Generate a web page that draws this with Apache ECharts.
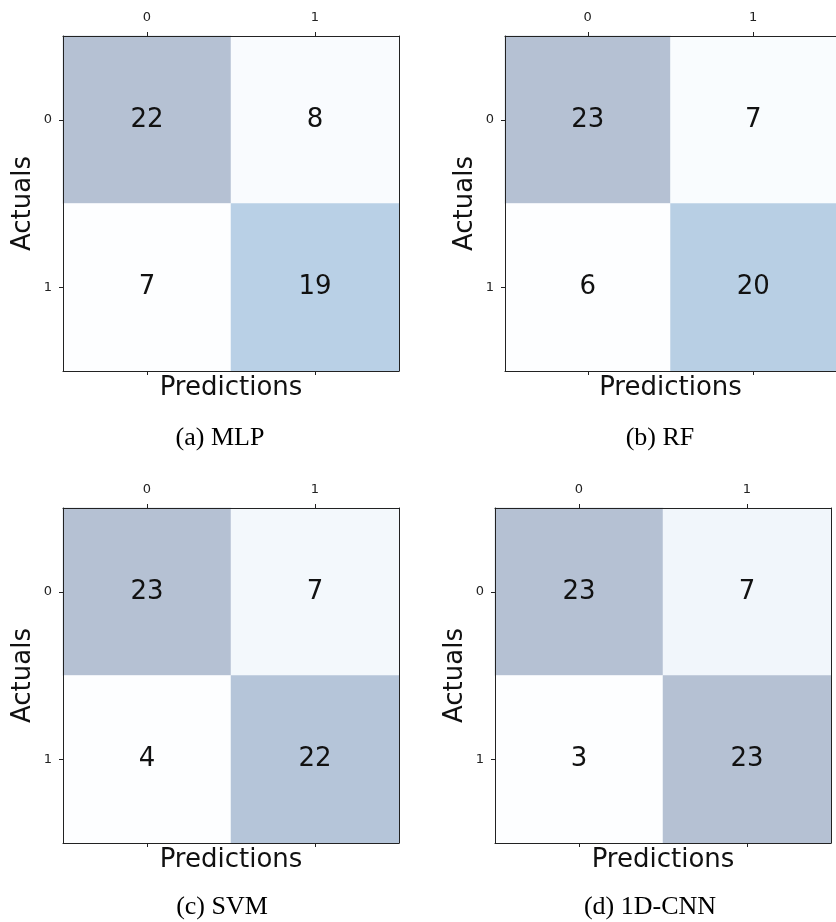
<!DOCTYPE html>
<html>
<head>
<meta charset="utf-8">
<script src="https://cdn.jsdelivr.net/npm/echarts@6/dist/echarts.min.js"></script>
<style>
  html, body { margin: 0; padding: 0; background: #fff; }
  #chart { width: 836px; height: 922px; }
</style>
</head>
<body>
<div id="chart"></div>
<script>
// 混淆矩阵数据（行 = 实际值，列 = 预测值）
const predLabels = ['0', '1'];
const actualLabels = ['0', '1'];
const mlp = [[22, 8], [7, 19]];
const rf = [[23, 7], [6, 20]];
const svm = [[23, 7], [4, 22]];
const cnn = [[23, 7], [3, 23]];
const captions = ['(a) MLP', '(b) RF', '(c) SVM', '(d) 1D-CNN'];

// Blues 色带，叠加 alpha 0.3 后的颜色
const blues = ['#fdfeff', '#f5f9fd', '#eef4fa', '#e2eff6', '#d3e7f3',
  '#c6deee', '#bcd4e9', '#b5cbe1', '#b5c1d3'];

// 各子图位置（b 图右侧被裁掉）
const panels = [
  { left: 63, top: 36, width: 336, height: 335, capX: 220, capY: 438, rightLine: true },
  { left: 505, top: 36, width: 336, height: 335, capX: 660, capY: 438, rightLine: false },
  { left: 63, top: 508, width: 336, height: 335, capX: 222, capY: 907, rightLine: true },
  { left: 495, top: 508, width: 336, height: 335, capX: 650, capY: 907, rightLine: true }
];
const matrices = [mlp, rf, svm, cnn];

const font = 'DejaVu Sans';
const lineColor = '#222';

let grid = [], xAxis = [], yAxis = [], series = [], visualMap = [], graphic = [];

matrices.forEach((m, i) => {
  const p = panels[i];
  grid.push({ left: p.left, top: p.top, width: p.width, height: p.height });

  // 上方坐标轴（带刻度标签）
  xAxis.push({
    type: 'category', gridIndex: i, position: 'top', data: predLabels, z: 10,
    axisLine: { show: true, lineStyle: { color: lineColor, width: 1 } },
    axisTick: { show: true, alignWithLabel: true, length: 4, lineStyle: { color: lineColor } },
    axisLabel: { fontFamily: font, fontSize: 13, color: '#222', margin: 12 },
    splitLine: { show: false }
  });
  // 下方坐标轴（只有刻度和标题）
  xAxis.push({
    type: 'category', gridIndex: i, position: 'bottom', data: predLabels, z: 10,
    name: 'Predictions', nameLocation: 'middle', nameGap: 4,
    nameTextStyle: { fontFamily: font, fontSize: 26, color: '#111' },
    axisLine: { show: true, lineStyle: { color: lineColor, width: 1 } },
    axisTick: { show: true, alignWithLabel: true, length: 4, lineStyle: { color: lineColor } },
    axisLabel: { show: false },
    splitLine: { show: false }
  });
  yAxis.push({
    type: 'category', gridIndex: i, position: 'left', data: actualLabels, inverse: true, z: 10,
    name: 'Actuals', nameLocation: 'middle', nameGap: 27, nameRotate: 90,
    nameTextStyle: { fontFamily: font, fontSize: 26, color: '#111' },
    axisLine: { show: true, lineStyle: { color: lineColor, width: 1 } },
    axisTick: { show: true, alignWithLabel: true, length: 4, lineStyle: { color: lineColor } },
    axisLabel: { fontFamily: font, fontSize: 13, color: '#222', margin: 11 },
    splitLine: { show: false }
  });
  yAxis.push({
    type: 'category', gridIndex: i, position: 'right', data: actualLabels, inverse: true, z: 10,
    axisLine: { show: p.rightLine, lineStyle: { color: lineColor, width: 1 } },
    axisTick: { show: false },
    axisLabel: { show: false },
    splitLine: { show: false }
  });

  const data = [];
  m.forEach((row, r) => {
    row.forEach((v, c) => {
      data.push([c, r, v]);
    });
  });
  const flat = m.flat();
  visualMap.push({
    type: 'continuous', show: false, seriesIndex: i,
    min: Math.min(...flat), max: Math.max(...flat),
    inRange: { color: blues }
  });
  series.push({
    type: 'heatmap', xAxisIndex: i * 2, yAxisIndex: i * 2, data: data,
    label: { show: true, fontFamily: font, fontSize: 26, color: '#111' },
    emphasis: { disabled: true }
  });

  graphic.push({
    type: 'text', x: p.capX, y: p.capY,
    style: {
      text: captions[i], fontFamily: 'Liberation Serif', fontSize: 26,
      fill: '#000', align: 'center', verticalAlign: 'middle'
    }
  });
});

const myChart = echarts.init(document.getElementById('chart'));
myChart.setOption({
  backgroundColor: '#fff',
  animation: false,
  grid: grid,
  xAxis: xAxis,
  yAxis: yAxis,
  visualMap: visualMap,
  series: series,
  graphic: graphic
});
</script>
</body>
</html>
